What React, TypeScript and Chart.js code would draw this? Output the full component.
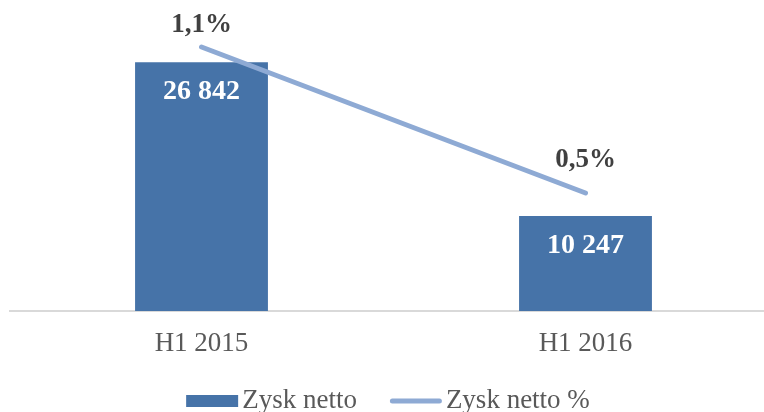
import React, { useEffect, useRef } from 'react';
import { Chart, registerables } from 'chart.js';

Chart.register(...registerables);

// ---- data ----
const categories: string[] = ['H1 2015', 'H1 2016'];
const netProfit: number[] = [26842, 10247];
const netProfitPct: number[] = [1.1, 0.5];
const seriesNames: string[] = ['Zysk netto', 'Zysk netto %'];

// ---- styles ----
const BAR_COLOR = '#4673a8';
const LINE_COLOR = '#8eaad4';
const TEXT_GRAY = '#595959';
const LABEL_DARK = '#404040';
const FONT = '"Liberation Serif", "Times New Roman", serif';
const LINE_LABEL_OFFSETS = [22, 33];
const BAR_LABEL_OFFSET = 30;
const LEGEND_CENTER_X = 388;
const LEGEND_BASELINE = 408;

const fmtThousands = (v: number) => String(v).replace(/\B(?=(\d{3})+(?!\d))/g, ' ');
const fmtPct = (v: number) => v.toFixed(1).replace('.', ',') + '%';

const labelsPlugin = {
  id: 'valueLabels',
  afterDatasetsDraw(chart: any) {
    const ctx = chart.ctx;
    ctx.save();
    ctx.textAlign = 'center';
    ctx.textBaseline = 'middle';
    chart.data.datasets.forEach((ds: any, di: number) => {
      const meta = chart.getDatasetMeta(di);
      meta.data.forEach((el: any, i: number) => {
        const v = ds.data[i];
        if (ds.type === 'bar') {
          ctx.font = `bold 28px ${FONT}`;
          ctx.fillStyle = '#ffffff';
          ctx.fillText(fmtThousands(v), el.x, el.y + BAR_LABEL_OFFSET);
        } else {
          ctx.font = `bold 27px ${FONT}`;
          ctx.fillStyle = LABEL_DARK;
          ctx.fillText(fmtPct(v), el.x, el.y - LINE_LABEL_OFFSETS[i]);
        }
      });
    });
    ctx.restore();
  },
};

const legendPlugin = {
  id: 'customLegend',
  afterDraw(chart: any) {
    const ctx = chart.ctx;
    ctx.save();
    ctx.font = `27px ${FONT}`;
    ctx.textBaseline = 'alphabetic';
    ctx.textAlign = 'left';
    const swW = 52;
    const gapText = 4;
    const gapItem = 33;
    const items = chart.data.datasets.map((ds: any) => ({
      text: ds.label,
      type: ds.type,
      color: ds.type === 'bar' ? ds.backgroundColor : ds.borderColor,
      w: ctx.measureText(ds.label).width,
    }));
    const total =
      items.reduce((s: number, it: any) => s + swW + gapText + it.w, 0) + gapItem * (items.length - 1);
    let x = LEGEND_CENTER_X - total / 2;
    items.forEach((it: any) => {
      if (it.type === 'bar') {
        ctx.fillStyle = it.color;
        ctx.fillRect(x, 395, swW, 12);
      } else {
        ctx.strokeStyle = it.color;
        ctx.lineWidth = 5;
        ctx.lineCap = 'round';
        ctx.beginPath();
        ctx.moveTo(x + 2.5, 401);
        ctx.lineTo(x + swW - 2.5, 401);
        ctx.stroke();
      }
      ctx.fillStyle = TEXT_GRAY;
      ctx.fillText(it.text, x + swW + gapText, LEGEND_BASELINE);
      x += swW + gapText + it.w + gapItem;
    });
    ctx.restore();
  },
};

export default function App() {
  const canvasRef = useRef<HTMLCanvasElement | null>(null);

  useEffect(() => {
    if (!canvasRef.current) return;
    const chart = new Chart(canvasRef.current, {
      type: 'bar',
      data: {
        labels: categories,
        datasets: [
          {
            type: 'bar',
            label: seriesNames[0],
            data: netProfit,
            yAxisID: 'y',
            backgroundColor: BAR_COLOR,
            borderWidth: 0,
            categoryPercentage: 1,
            barPercentage: 0.346,
            order: 2,
          } as any,
          {
            type: 'line',
            label: seriesNames[1],
            data: netProfitPct,
            yAxisID: 'y1',
            borderColor: LINE_COLOR,
            backgroundColor: LINE_COLOR,
            borderWidth: 5,
            borderCapStyle: 'round',
            pointRadius: 0,
            pointHoverRadius: 0,
            tension: 0,
            order: 1,
          } as any,
        ],
      },
      options: {
        animation: false,
        responsive: true,
        maintainAspectRatio: false,
        layout: { padding: { left: 9.5, right: 2.5, top: 33, bottom: 34.6 } },
        plugins: {
          legend: { display: false },
          tooltip: { enabled: false },
        },
        scales: {
          x: {
            type: 'category',
            grid: { display: false, drawTicks: false },
            border: { display: true, color: '#d9d9d9', width: 2 },
            ticks: {
              color: TEXT_GRAY,
              font: { family: FONT, size: 27 },
              padding: 17,
            },
          },
          y: {
            display: false,
            min: 0,
            max: 30000,
          },
          y1: {
            display: false,
            position: 'right',
            min: 0.015,
            max: 1.1575,
          },
        },
      },
      plugins: [labelsPlugin, legendPlugin],
    });
    return () => chart.destroy();
  }, []);

  return (
    <div
      style={{
        position: 'fixed',
        left: 0,
        top: 0,
        width: 764,
        height: 412,
        overflow: 'hidden',
        background: '#ffffff',
      }}
    >
      <div style={{ position: 'relative', width: 780, height: 412 }}>
        <canvas ref={canvasRef} />
      </div>
    </div>
  );
}
